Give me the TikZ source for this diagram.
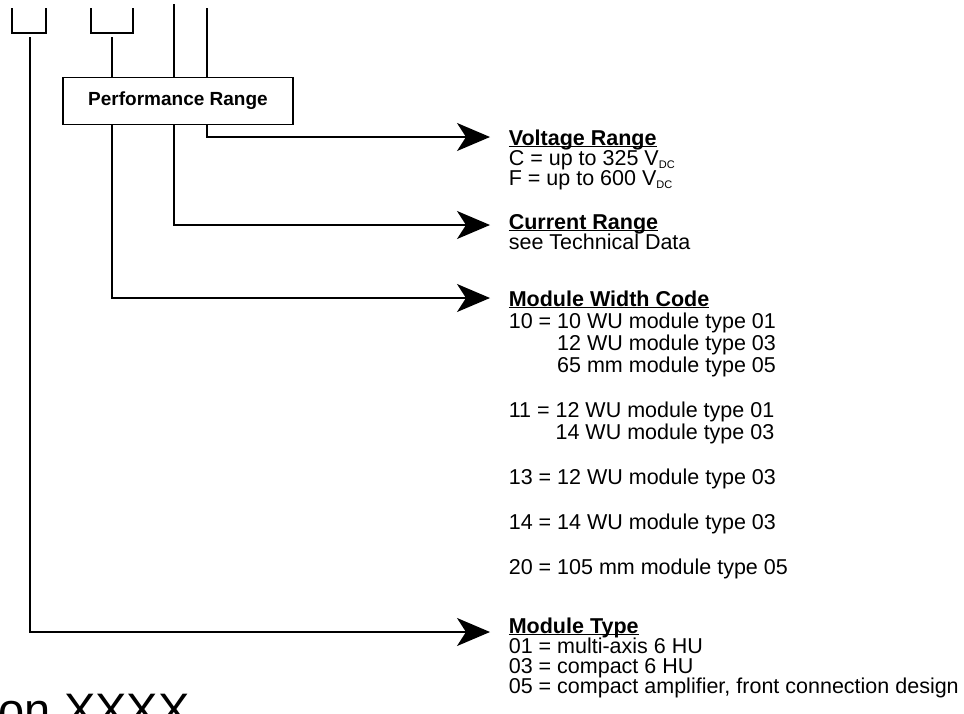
\documentclass[tikz,border=0pt]{standalone}
\usepackage{fontspec}
\setmainfont{Liberation Sans}
\usetikzlibrary{arrows.meta}
\newcommand\myul[1]{\setbox0\hbox{#1}\rlap{\rule[-2.4pt]{\wd0}{1.3pt}}\box0}
\newcommand\vdc{V\raisebox{-3pt}{\fontsize{11}{11}\selectfont DC}}
\begin{document}
\begin{tikzpicture}[x=1pt,y=-1pt,line width=1.6pt,
  txt/.style={anchor=base west,inner sep=0pt,font=\fontsize{21.5}{21.5}\selectfont},
  ttl/.style={txt,font=\fontsize{21.5}{21.5}\selectfont\bfseries},
  arr/.style={-{Stealth[length=33pt,width=28pt,inset=9pt]}},
  boxst/.style={draw,fill=white,line width=1.4pt,minimum width=230pt,minimum height=47pt,inner sep=0pt,font=\fontsize{19}{19}\selectfont\bfseries}]
\useasboundingbox (0,0) rectangle (964,713);
% brackets
\draw (12,8) -- (12,33) -- (46,33) -- (46,8);
\draw (91,8) -- (91,33) -- (133,33) -- (133,8);
% line origins
\coordinate (sType) at (30,37);
\coordinate (sWidth) at (112,37);
\coordinate (sCurr) at (174,4);
\coordinate (sVolt) at (207,8);
% arrow targets
\coordinate (tVolt) at (490,137);
\coordinate (tCurr) at (490,225);
\coordinate (tWidth) at (490,298);
\coordinate (tType) at (490,632);
\draw[arr] (sVolt) |- (tVolt);
\draw[arr] (sCurr) |- (tCurr);
\draw[arr] (sWidth) |- (tWidth);
\draw[arr] (sType) |- (tType);
% box
\node[boxst] (perf) at (178,101) {Performance Range};
% voltage
\node[ttl] (vT) at (508,145) {\myul{Voltage Range}};
\node[txt] (v1) at (508,165) {C = up to 325 \vdc};
\node[txt] (v2) at (508,185) {F = up to 600 \vdc};
% current
\node[ttl] (cT) at (508,229) {\myul{Current Range}};
\node[txt] (c1) at (508,249) {see Technical Data};
% width
\node[ttl] (wT) at (508,306) {\myul{Module Width Code}};
\node[txt] (w1) at (508,328) {10 = 10 WU module type 01};
\node[txt] (w2) at (508,350) {\phantom{10 = }12 WU module type 03};
\node[txt] (w3) at (508,372) {\phantom{10 = }65 mm module type 05};
\node[txt] (w4) at (508,417) {11 = 12 WU module type 01};
\node[txt] (w5) at (508,439) {\phantom{11 = }14 WU module type 03};
\node[txt] (w6) at (508,484) {13 = 12 WU module type 03};
\node[txt] (w7) at (508,529) {14 = 14 WU module type 03};
\node[txt] (w8) at (508,574) {20 = 105 mm module type 05};
% type
\node[ttl] (mT) at (508,633) {\myul{Module Type}};
\node[txt] (m1) at (508,653) {01 = multi-axis 6 HU};
\node[txt] (m2) at (508,673) {03 = compact 6 HU};
\node[txt] (m3) at (508,693) {05 = compact amplifier, front connection design};
% bottom
\node[anchor=base west,inner sep=0pt,font=\fontsize{47}{47}\selectfont] (des) at (-2,726) {on XXXX};
\end{tikzpicture}
\end{document}
